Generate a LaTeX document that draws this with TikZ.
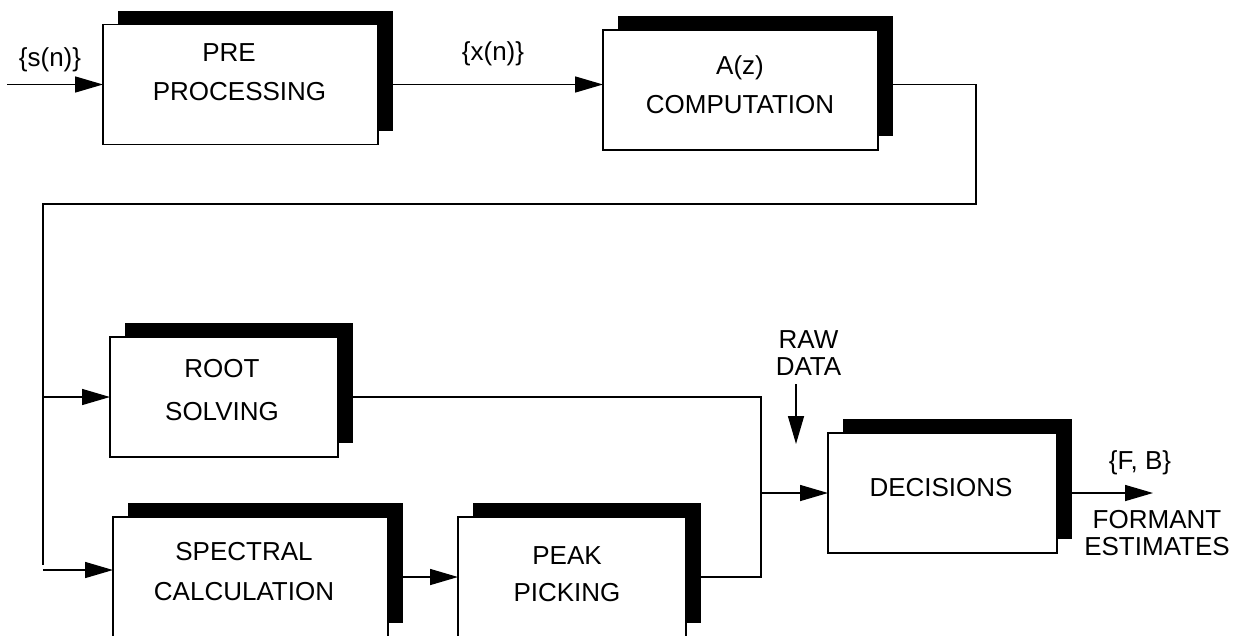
\documentclass[tikz,border=0pt]{standalone}
\usepackage{fontspec}
\setmainfont{Liberation Sans}
\usetikzlibrary{arrows.meta,shadows}
\begin{document}
\begin{tikzpicture}[x=1pt,y=-1pt,
  blk/.style={draw=black, fill=white, line width=1.5pt, inner sep=0pt, outer sep=0pt,
    minimum height=120pt,
    drop shadow={shadow xshift=14.5pt, shadow yshift=14pt, fill=black, opacity=1}},
  wide/.style={blk, minimum width=275pt},
  narrow/.style={blk, minimum width=228pt},
  boxtext/.style={align=center, inner sep=0pt, font=\fontsize{26}{#1}\selectfont},
  boxtext/.default=40,
  lbl/.style={align=center, inner sep=0pt, font=\fontsize{26}{27}\selectfont},
  wire/.style={line width=1.5pt},
  arr/.style={wire, -{Triangle[length=28pt,width=16pt]}}]
\clip (0,0) rectangle (1238,635);

% blocks
\node[wide] (pre) at (240.5,84.5) {};
\node[wide] (az) at (740.5,90) {};
\node[narrow] (root) at (224,397) {};
\node[wide] (spec) at (250.5,577) {};
\node[narrow] (peak) at (572,577) {};
\node[narrow, minimum width=229pt] (dec) at (942.5,493) {};

% block texts
\node[boxtext=39] (pretxt) at (239.5,72.5) {PRE\hspace*{21pt}\\PROCESSING};
\node[boxtext=39] (aztxt) at (740,84.5) {A(z)\\COMPUTATION};
\node[boxtext=43] (roottxt) at (222,390) {ROOT\\SOLVING};
\node[boxtext=40] (spectxt) at (244,572) {SPECTRAL\\CALCULATION};
\node[boxtext=37] (peaktxt) at (567,574) {PEAK\\PICKING};
\node[boxtext] (dectxt) at (941,488) {DECISIONS};

% labels
\node[lbl] (sn) at (50,60) {\{s(n)\}};
\node[lbl] (xn) at (493,54) {\{x(n)\}};
\node[lbl] (raw) at (808.5,353) {RAW\\DATA};
\node[lbl] (fb) at (1140,462.5) {\{F, B\}};
\node[lbl] (fe) at (1157,533.5) {FORMANT\\ESTIMATES};

% coordinates
\coordinate (in) at (7,84.5);
\coordinate (r1) at (976,84.5);
\coordinate (r2) at (976,204);
\coordinate (l1) at (43,204);
\coordinate (l2) at (43,565);
\coordinate (l3) at (43,570);
\coordinate (jt) at (761,397);
\coordinate (jm) at (761,493);
\coordinate (rawtop) at (796,384);
\coordinate (rawtip) at (796,444);
\coordinate (out) at (1153,493);

% connectors
\draw[arr] (in) -- (pre.west);
\draw[arr] (pre.east) -- (pre.east -| az.west);
\draw[wire] (r1 -| az.east) -- (r1) -- (r2) -- (l1) -- (l2);
\draw[arr] (l1 |- root.west) -- (root.west);
\draw[arr] (l3) -- (l3 -| spec.west);
\draw[arr] (spec.east) -- (peak.west);
\draw[wire] (root.east) -- (jt) -- (jt |- peak.east) -- (peak.east);
\draw[arr] (jm) -- (dec.west);
\draw[arr] (rawtop) -- (rawtip);
\draw[arr] (dec.east) -- (out);
\end{tikzpicture}
\end{document}
